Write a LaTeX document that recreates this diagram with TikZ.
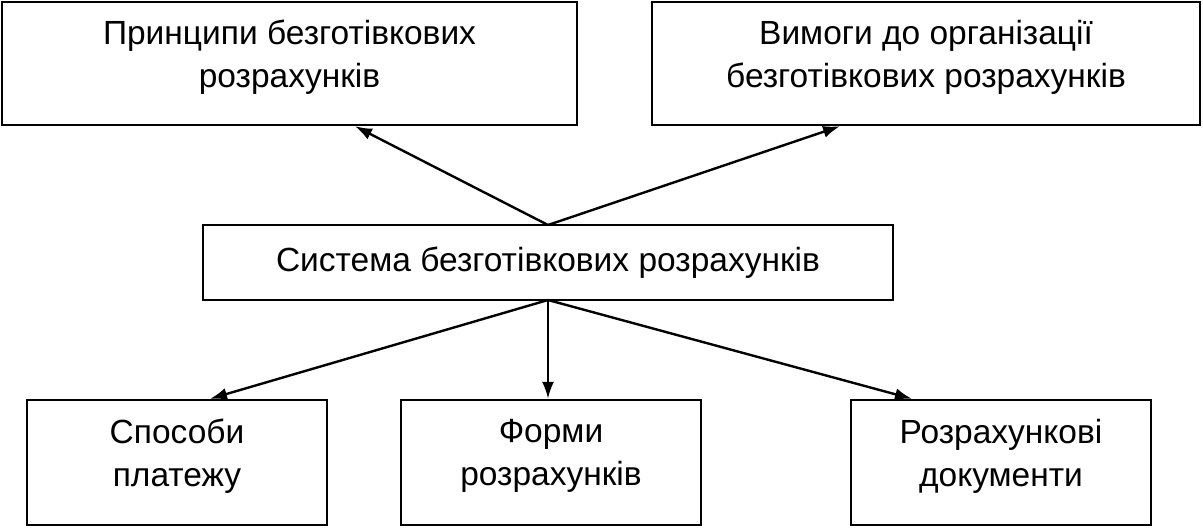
\documentclass[tikz,border=0pt]{standalone}
\usepackage{fontspec}
\setmainfont{Liberation Sans}
\usetikzlibrary{arrows.meta,positioning}
\tikzset{
  box/.style={rectangle,draw,line width=2.4pt,align=center,font=\fontsize{33.5}{43}\selectfont,inner sep=0pt},
  arrow/.style={-{Latex[length=17pt,width=12pt]},line width=2.4pt},
}
\begin{document}
\begin{tikzpicture}[x=1pt,y=1pt]
  \useasboundingbox (0,0) rectangle (1203,-528);
  \node[box,minimum width=575,minimum height=123] (principles) at (289.5,-63.5) {Принципи безготівкових\\розрахунків\\[-23pt]};
  \node[box,minimum width=548,minimum height=123] (demands) at (926,-63.5) {Вимоги до організації\\безготівкових розрахунків\\[-23pt]};
  \node[box,minimum width=690,minimum height=75] (system) at (548,-262.5) {Система безготівкових розрахунків};
  \node[box,minimum width=300,minimum height=125] (methods) at (177,-462.5) {Способи\\платежу\\[-23pt]};
  \node[box,minimum width=300,minimum height=125] (forms) at (551,-462.5) {Форми\\розрахунків\\[-23pt]};
  \node[box,minimum width=300,minimum height=125] (documents) at (1001,-462.5) {Розрахункові\\документи\\[-23pt]};

  \coordinate (sysin) at (548,-225);
  \coordinate (sysout) at (548,-300);
  \draw[arrow] (sysin) -- (principles.south -| 355,0);
  \draw[arrow] (sysin) -- (demands.south -| 840,0);
  \draw[arrow] (sysout) -- (methods.north -| 210,0);
  \draw[arrow] (sysout) -- (forms.north -| sysout);
  \draw[arrow] (sysout) -- (documents.north -| 912,0);
\end{tikzpicture}
\end{document}
